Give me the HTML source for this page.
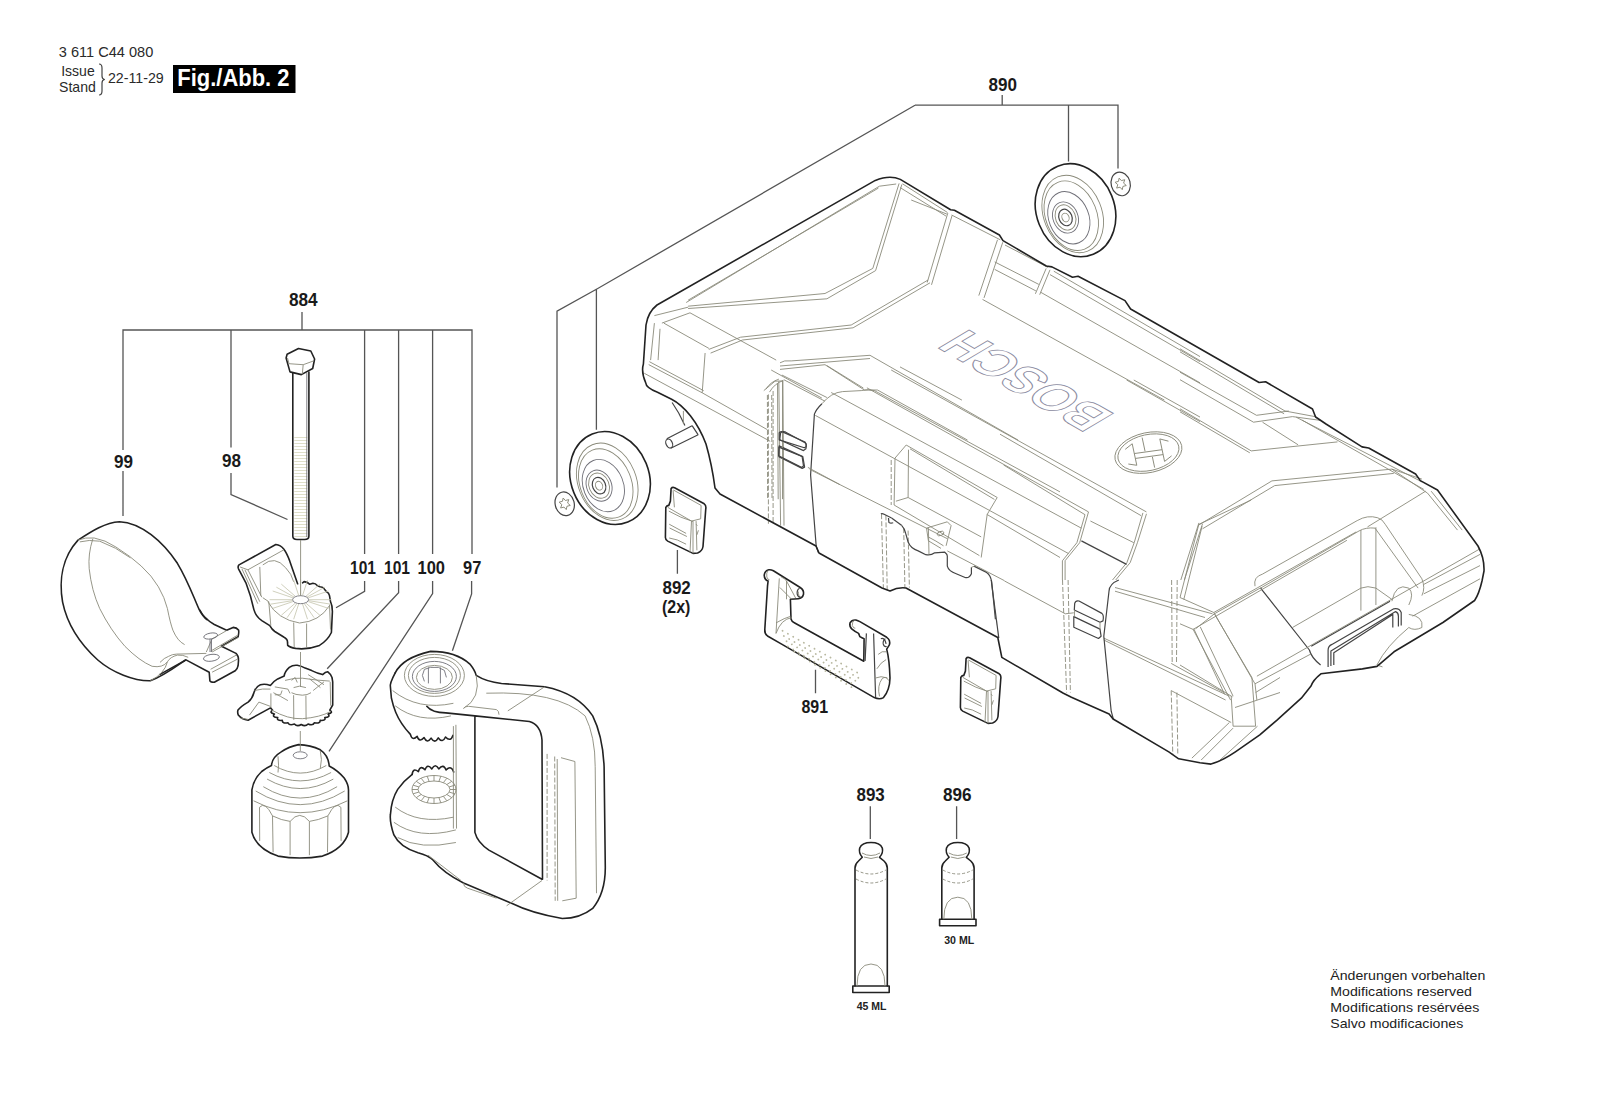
<!DOCTYPE html>
<html><head><meta charset="utf-8">
<style>
html,body{margin:0;padding:0;background:#fff;}
body{width:1600px;height:1106px;overflow:hidden;position:relative;font-family:"Liberation Sans",sans-serif;}
svg{position:absolute;left:0;top:0;}
.lbl{font-family:"Liberation Sans",sans-serif;font-weight:bold;font-size:18px;fill:#1a1a1a;}
.ld{stroke:#555;stroke-width:1.3;fill:none;}
.o{stroke:#222;stroke-width:1.6;fill:none;stroke-linejoin:round;stroke-linecap:round;}
.m{stroke:#444;stroke-width:1.2;fill:none;stroke-linejoin:round;}
.t{stroke:#8a8a7a;stroke-width:0.9;fill:none;}
.d{stroke:#8a8a7a;stroke-width:0.9;fill:none;stroke-dasharray:5 2;}
.w{fill:#fff !important;}
.g{stroke:#707078;stroke-width:0.9;fill:none;}
</style></head>
<body>
<svg width="1600" height="1106" viewBox="0 0 1600 1106">
<!-- header -->
<g font-family="Liberation Sans, sans-serif" fill="#2a2a2a">
<text x="58.8" y="56.8" font-size="15.2" textLength="94.5" lengthAdjust="spacingAndGlyphs">3 611 C44 080</text>
<text x="61.2" y="76" font-size="14.6" textLength="33.5" lengthAdjust="spacingAndGlyphs">Issue</text>
<text x="59" y="92" font-size="14.6" textLength="36.8" lengthAdjust="spacingAndGlyphs">Stand</text>
<text x="107.9" y="83.4" font-size="15.2" textLength="55.8" lengthAdjust="spacingAndGlyphs">22-11-29</text>
</g>
<path d="M99,64 q3,0 3,4 v8 q0,3 2.5,3.5 q-2.5,0.5 -2.5,3.5 v8 q0,4 -3,4" class="m" stroke-width="1.3"/>
<rect x="173" y="65" width="122.5" height="28" fill="#000"/>
<text x="177.3" y="86.2" font-size="23.5" font-weight="bold" fill="#fff" font-family="Liberation Sans, sans-serif" textLength="112.2" lengthAdjust="spacingAndGlyphs">Fig./Abb. 2</text>

<!-- labels -->
<g class="lbl">
<text x="289" y="305.5" textLength="28.7" lengthAdjust="spacingAndGlyphs">884</text>
<text x="114" y="468" textLength="19" lengthAdjust="spacingAndGlyphs">99</text>
<text x="222" y="467" textLength="19" lengthAdjust="spacingAndGlyphs">98</text>
<text x="350" y="574" textLength="26" lengthAdjust="spacingAndGlyphs">101</text>
<text x="384" y="574" textLength="26" lengthAdjust="spacingAndGlyphs">101</text>
<text x="417.5" y="574" textLength="27.5" lengthAdjust="spacingAndGlyphs">100</text>
<text x="463" y="574" textLength="18.3" lengthAdjust="spacingAndGlyphs">97</text>
<text x="988.5" y="90.5" textLength="28.5" lengthAdjust="spacingAndGlyphs">890</text>
<text x="662.5" y="593.5" textLength="28.3" lengthAdjust="spacingAndGlyphs">892</text>
<text x="801.5" y="712.5" textLength="26.6" lengthAdjust="spacingAndGlyphs">891</text>
<text x="856.5" y="800.5" textLength="28.3" lengthAdjust="spacingAndGlyphs">893</text>
<text x="943" y="800.5" textLength="28.6" lengthAdjust="spacingAndGlyphs">896</text>
</g>
<text x="662" y="612.5" font-size="17.5" font-weight="bold" fill="#1a1a1a" font-family="Liberation Sans, sans-serif" textLength="28.4" lengthAdjust="spacingAndGlyphs">(2x)</text>

<!-- leader lines 884 -->
<g class="ld">
<path d="M302,312 V330 M123,516 V471 M123,450 V330 H472 V554 M231,330 V447.5 M231,473 V494.5 L287.5,519.5 M364.6,330 V554 M398.6,330 V554 M432.6,330 V554"/>
<path d="M364.6,581 V591.4 L336,607.7 M398.6,581 V592.8 L327.2,668.8 M432.6,581 V593.5 L329,751.4 M471.6,581 V594 L452.4,650.7"/>
<!-- 890 -->
<path d="M1002.2,95 V105.2 M915,105.2 H1118 V168.5 M1068.5,105.2 V161.5 M915,105.2 L596.4,289.3 V429.8 M596.4,289.3 L557,311.1 V487.4"/>
<path d="M677.4,550 V573.8 M815.5,669.7 V693.2 M870.3,806.2 V839 M956.6,806.2 V839"/>
</g>

<g font-family="Liberation Sans, sans-serif" fill="#222" font-size="13.6">
<text x="1330.3" y="980.2" textLength="155" lengthAdjust="spacingAndGlyphs">Änderungen vorbehalten</text>
<text x="1330.3" y="995.8" textLength="141.6" lengthAdjust="spacingAndGlyphs">Modifications reserved</text>
<text x="1330.3" y="1011.7" textLength="149" lengthAdjust="spacingAndGlyphs">Modifications resérvées</text>
<text x="1330.3" y="1027.5" textLength="133" lengthAdjust="spacingAndGlyphs">Salvo modificaciones</text>
</g>
<g font-family="Liberation Sans, sans-serif" font-weight="bold" fill="#222" font-size="11">
<text x="856.7" y="1009.7" textLength="29.8" lengthAdjust="spacingAndGlyphs">45 ML</text>
<text x="944.2" y="944.1" textLength="30" lengthAdjust="spacingAndGlyphs">30 ML</text>
</g>
<g id="parts">
<path class="t" d="M686.2 302.5L879.4 186.2L896.2 184"/>
<path class="t" d="M688.1 300.2L878.4 188.1"/>
<path class="t" d="M688.1 306.2L825 293.5L872.8 268.4L899.1 183.4"/>
<path class="t" d="M688.1 308.5L826.9 298.8L875.6 270.6L901.9 184.4"/>
<path class="t" d="M654.4 315.6L688.1 307.2M661.9 323.1L690 312.8L776.2 360.1M663.8 323.1L708.9 348.4"/>
<path class="t" d="M708.8 349.4L740.6 337.2L851.2 325L928.1 280M710.6 353.1L742.5 340L853.1 327.8L930 282.8"/>
<path class="t" d="M654.4 323.1L650.6 360.1M660 328.8L658.1 360.1"/>
<path class="t" d="M911.2 200L946.9 214.1M947.8 213.1L927.2 282.5M952.1 215.4L931.5 284.8"/>
<path class="t" d="M951.6 215L1000.3 239.8M997.5 239.8L978.8 295.6M1002.8 242.2L984 297.9"/>
<path class="t" d="M994.7 269.4L1035.9 290.9M994.7 261.9L1038.8 284.4M1046.2 268.4L1035.4 293.8M1050 269.8L1039.7 294.7"/>
<path class="t" d="M1050 274.6L1200 361.6M1040.6 292.2L1200 382.8M982.5 299.4L1164.4 400.1M900 366.9L961.9 400.1M1005 245L1048.1 267.5M1053.8 271.2L1200 356.6"/>
<path class="t" d="M1180 348.8L1285 411L1315 416.6M1180 351.8L1284.1 413.8"/>
<path class="t" d="M1180 372.2L1256.5 415.3L1288.8 411M1180 379.7L1253.5 422.2L1292.5 416.6L1320.6 420.4"/>
<path class="t" d="M1262.5 422.2L1298.1 444.8M1180 408.8L1251.2 450.9L1337.5 441.9M1180 411.8L1249.8 452.8"/>
<path class="t" d="M1296.2 417.2L1421.9 481.9M1301.9 420L1423.8 489.4"/>
<path class="t" d="M1271.9 480.9L1391.9 469.1L1421.9 479.1M1274.7 485.6L1393.8 473.4M1271.9 480.9L1198.8 525M1274.7 485.6L1202.5 528.8"/>
<path class="t" d="M1425.6 491.2L1367.5 526.9M1427.5 493.1L1457.5 530.1M1431.2 491.2L1462.2 530.1M1391.9 469.1L1427.5 493.1"/>
<path class="t" d="M1198.8 524.4L1251.2 500M1198.8 524.4L1180 597.5M1202.1 526.2L1183.8 599.4"/>
<path class="t" d="M1255 586.2Q1253.1 576.9 1262.5 574.1L1357.2 520.6Q1367.5 514.6 1377.8 517.8Q1382.5 519.1 1385.3 524.4L1421.9 578.8Q1425.6 588.1 1421.9 595.6"/>
<path class="t" d="M1260.6 588.1L1359.1 530.9Q1365.6 527.2 1375 528.1L1418.1 588.1M1360.9 530V610.6M1375.9 527.2V605"/>
<path class="t" d="M1292.5 627.5L1360.9 588.1Q1367.5 585.3 1375.9 588.1L1391.9 599.4"/>
<path class="m" d="M1260.6 588.1L1309.4 650Q1311.2 657.5 1320.6 665M1311.2 646.2L1390 601.2"/>
<path class="m" d="M1328.1 666.9V650Q1328.1 646.2 1331.9 644.4L1393.8 608.8Q1399.4 607.8 1401.2 612.5V625.6M1330.9 665.9V650.9L1395.6 611.6Q1398.4 612.5 1398.4 616.2V626.6M1333.8 665V652.8L1392.8 614.4V627.5"/>
<path class="t" d="M1423.8 584.4L1480 554.4M1423.8 593.8L1480 565.6M1412.5 616.2L1480 578.8M1391.9 601.2Q1395.6 582.5 1408.8 588.1Q1414.4 593.8 1408.8 605M1408.8 614.4Q1423.8 616.2 1421.9 627.5Q1414.4 631.2 1408.8 627.5"/>
<path class="t" d="M1180 597.5L1213.8 612.5L1255 683.8L1256.9 700.1M1180 623.8L1193.1 629.4L1230.6 700.1M1180 665L1232.5 696.9M1213.8 612.5L1356.2 531.9M1193.1 629.4L1346.9 540.3M1255 683.8L1311.2 653.8M1256.9 676.2L1480 548.8"/>
<path class="t" d="M1376.9 665Q1386.2 646.2 1408.8 627.5M1376.9 665L1382.5 666.9"/>
<path class="m" d="M991.2 580L998.8 638.1"/>
<path class="t" d="M1004.4 580.9L1065.3 613.8L1073.8 612.8M1103.8 638.1L1229.4 696.2M1103.8 640L1225.6 700"/>
<path class="d" d="M1062.5 580L1066.6 692.5M1068.1 580L1070.4 692.5M1171.6 580L1172.2 662.5M1177.2 580L1176.5 662.5M1171.2 690.6L1172.8 754.4M1176.9 692.5L1177.8 754.4"/>
<path class="m" d="M1074.7 603.4Q1075.6 600.2 1079 601L1101.9 613.4Q1104.1 615.2 1103 620.9L1100 622.2L1074.3 610ZM1073.8 616.6L1100 629.1L1101.1 636.2L1098.5 638.5L1073.8 627.2Z"/>
<path class="t" d="M1074.7 610L1074.3 616.6M1100 622.2L1100 629.1"/>
<path class="m" d="M1118.8 580Q1109.4 583.8 1109 591.2L1103.8 636.2L1111.2 711.2L1113.5 719.7"/>
<path class="t" d="M1171.2 663.4L1223.8 692.5M1171.2 690.6L1231.2 722.5M1193.8 628.8L1224.7 694.4M1200.3 626.9L1233.1 696.2M1214.4 613.8L1261.2 587.5M1195.6 628.8L1214.4 613.8M1214.4 613.8L1251.9 677.5L1255.6 726.2M1231.2 696.2L1233.1 726.2L1255.6 726.2"/>
<path class="t" d="M1191.9 758.1L1229.4 722.5M1201.2 760L1233.1 728.1M1220 760L1257.5 726.2M1235 707.5L1280 692.5M1255.6 692.5L1280 677.5"/>
<path class="t" d="M1115 587.5L1212.5 613.8M1115 591.2L1205 617.5"/>
<path class="d" d="M768.4 394.4L768.4 523.8M773.1 391L773.1 523.8M891.2 460L891.2 505"/>
<path class="t" d="M778.8 381.2L780.6 525.6M782.9 381.2L784 525.6M763.8 390.6L775 381.2L783.4 380.9"/>
<path class="m" d="M780.6 432.8Q782.1 430.9 785.3 431.9L805 442.8Q806.9 444.1 805.9 448.8L803.5 450.6L779.7 439.8ZM779.1 445.9L802.8 456.6L804.6 467.1L802.2 468.4L778.8 456.6Z"/>
<path class="m" d="M821.9 403.8Q816.2 409.4 814.4 414.1L810.6 475L816.2 546.2L818.5 552.8"/>
<path class="t" d="M821.9 403.8Q831.2 392.5 842.5 391.6L861.2 390.6Q868.8 388.8 874.4 390.6L1060 491.9M815.3 415.4L1068.6 553.6M809.7 469.4L947.5 538.8M986.9 514.4L1060 557.5"/>
<path class="t" d="M895 458.1L906.2 445L997.2 497.5L987.2 514.4L981.2 557.5M895 458.1L894.1 505L979.4 555.6M908.5 449.7L908.1 497.5L981.2 536.9M895.9 501.2L908.1 497.5M910 448.8L994.4 499.4"/>
<path class="t" d="M866.9 387.8L1088.5 511.9L1079.7 542.7L1065.1 560.7L1065.1 580M891.2 370L1146.4 511.9M831.2 392.5L1081.4 528.2M771.2 370L821.9 398.1"/>
<path class="m" d="M666.8 438.7L692.1 425.7M670.7 448.2L698.2 434.8M692.1 425.7L698.2 434.8"/>
<ellipse class="m" cx="669.2" cy="443.5" rx="3.2" ry="4.6" transform="rotate(-25 669.2 443.5)"/>
<path class="m" d="M672.1 402.5Q679.1 412.4 684.9 425.4"/>
<path class="t" d="M648.7 364.6L702.2 392.8M705.1 353L702.2 392.8M649.4 361.7L703.7 390.7"/>
<path class="t" d="M683.4 410.9L683.4 423.9M644.3 373.3L770.2 441.3M807.9 467.4L840 484.7M765.9 389.2Q770.2 382 778.9 379.1M769.5 392.1Q774.6 383.4 783.3 380.5"/>
<path class="d" d="M767.4 395L767.6 499.2M771.7 395L772 499.2"/>
<path class="t" d="M777.5 383.4L778.2 499.2M782.5 380.5L782.5 499.2M702.2 392.8L767.4 429.7"/>
<path class="m" d="M779.2 432.9Q780.1 431.2 782.5 431.9L805 442Q806.7 443.5 806.1 446.8L804.3 447.8L779.2 439.9ZM778.9 447.1L802.1 456.5L803.5 465.9L801.4 467.4L778.6 455.8Z"/>
<path class="t" d="M780 362.8Q783.8 360 791.2 360.9L870 355.3L1018.1 440.1M780 366L870 358.5"/>
<path class="t" d="M780 369.4L825 364.7L864.4 390L877.5 390L967.5 440.1M781.9 375L826.9 397.5M783.8 379.7L825 401.2M826.9 365.6L863.4 388.1"/>
<text transform="matrix(-0.866,-0.5,0.926,-0.551,1116,415)" font-family="Liberation Sans, sans-serif" font-weight="bold" font-size="48" fill="none" stroke="#8a8aa0" stroke-width="0.9" textLength="173" lengthAdjust="spacingAndGlyphs">BOSCH</text>
<g transform="translate(1148.4,452.6) rotate(-12)"><ellipse class="t" rx="34" ry="20"/><ellipse class="t" rx="31" ry="18"/><path class="t" d="M-22,-8 L-14,-12 L-14,10 L-22,7 M22,-7 L14,-11 L14,12 L22,8 M-14,-2 L14,0 M-14,3 L14,5 M-3,-16 L-3,-2 M3,5 L3,16"/></g>
<g>
<path class="w o" d="M671.1 488.4Q672.3 486.9 674.6 487.7L704.2 503.8Q706.5 505.4 705.7 509.6L703 546.5Q702.3 551.1 697.6 553L693 553.4L667.7 541.1Q665.4 539.9 665.4 537.6L665.8 507.3Q666.9 505.4 668.8 505.4L670.4 501.1Z"/>
<path class="t" d="M673.1 490.4L674.4 507.3M673.4 490L701.1 505.4L700.7 518.8M667.7 507.3L691.5 521.1L700.7 518.8M668.8 511.1Q680.7 518 693 521.5M691.5 521.1L690 552.6M693 521.1L693 553.4M696.1 521.1L696.9 550.3"/>
<path class="t" d="M669.2 524.2L686.1 533.4M669.6 528L686.9 536.5M669.2 538Q676.9 538.8 686.1 544.2M696.1 524.2L697.3 525.7M696.9 534.9L698.4 530.3"/>
</g><g transform="translate(295,170)">
<path class="w o" d="M671.1 488.4Q672.3 486.9 674.6 487.7L704.2 503.8Q706.5 505.4 705.7 509.6L703 546.5Q702.3 551.1 697.6 553L693 553.4L667.7 541.1Q665.4 539.9 665.4 537.6L665.8 507.3Q666.9 505.4 668.8 505.4L670.4 501.1Z"/>
<path class="t" d="M673.1 490.4L674.4 507.3M673.4 490L701.1 505.4L700.7 518.8M667.7 507.3L691.5 521.1L700.7 518.8M668.8 511.1Q680.7 518 693 521.5M691.5 521.1L690 552.6M693 521.1L693 553.4M696.1 521.1L696.9 550.3"/>
<path class="t" d="M669.2 524.2L686.1 533.4M669.6 528L686.9 536.5M669.2 538Q676.9 538.8 686.1 544.2M696.1 524.2L697.3 525.7M696.9 534.9L698.4 530.3"/>
</g>
<path class="o" d="M768.1 581Q764.4 579.7 764.2 575.1Q764.8 570.7 768.8 569.8Q770.7 569.4 773.4 570.7L800.2 587.5Q804.2 590.1 803.5 594.3Q802.5 598.3 798.3 598.7L790.4 599.3L791 619Q791.7 621.6 794.3 622.7L863.8 661.2L864.1 638.7Q861.8 638 859.9 636.7L858.6 633.4Q854.6 631.4 852 629.2Q849.1 626.2 850 622.9Q851.7 619.6 855.9 620Q857.9 620.6 859.9 621.6L886.7 637.3Q890.7 640 889.4 644.9L886.7 649.1Q889.4 659.6 890 678Q889.8 689.8 883.5 697.6Q879.5 700 874.3 697.6L781.2 643.9L767.5 636Q764.4 633.4 764.8 629.5L767.5 586.2Z"/>
<path class="t" d="M779.3 578.4L776 633.4M781.2 577Q785.1 578.4 786.5 581L795.6 598M779.9 587.5L791.7 599.3M786.5 581L786.5 599.3"/>
<path class="t" d="M776 633.4Q781.2 619 791.7 617.7M776 622.9Q785.1 617.7 790.4 616.4"/>
<path class="m" d="M866.4 633.4L865.1 660.9M880.8 638.7Q884.8 637.3 886.1 643.9M873.6 633.4L875.6 697"/>
<path class="t" d="M878.2 654.4Q882.2 650.4 886.1 651.8M876.9 668.8Q880.8 662.2 886.1 659.6M875.6 678Q880.8 675.4 887.4 678M879.5 696.3Q876.9 685.8 882.2 678.6Q886.1 675.4 888.7 680.6M798.3 591.5Q798.3 596.7 800.9 597.4"/>
<g stroke="#b8b8a0" stroke-width="1.8" stroke-linecap="round" stroke-dasharray="0.1 6" fill="none">
<path class="" d="M782.5 630.8L859.9 674M783.8 636L858.6 678M786.5 641.3L857.2 681.9M787.8 646.5L855.9 685.8M794.3 651.8L854.6 689.1"/>
</g>
<path class="m" d="M799.6 588.2Q796.7 589.5 797.2 594.1Q798.3 598 801.1 597.4M885.4 638.7Q882.8 640 883.2 643.9Q884.1 647.2 886.7 646.5"/>
<path class="t" d="M768.1 570.5Q766.1 572.5 766.8 577Q768.1 580.3 769.4 579.7M854.6 620Q852 621.6 852.3 625.5Q853.6 628.8 855.3 628.2"/>
<g transform="translate(0,0)">
<path class="o" stroke-width="1.5" d="M855,986 L855,868 Q855,864 858.5,861 L862.3,857.3 Q858.5,853 859.7,848 Q862,842.5 871,842.5 Q880,842.5 882.3,848 Q883.5,853 879.5,857.3 L884,861 Q887.3,864 887.3,868 L887.3,986"/>
<rect class="o" stroke-width="1.5" x="852.8" y="986" width="36.4" height="6.5"/>
<path class="t" stroke-dasharray="3 2" d="M856,870 Q871,878 886,870 M856,879 Q871,887 886,879"/>
<path class="t" d="M862,853 Q871,858 880,853 M864,857 Q871,860 878,857"/>
<path class="t" d="M857,986 Q857,964 871,964 Q885,964 885,986"/>
</g>
<g transform="translate(86.8,0)">
<path class="o" stroke-width="1.5" d="M855,919.2 L855,868 Q855,864 858.5,861 L862.3,857.3 Q858.5,853 859.7,848 Q862,842.5 871,842.5 Q880,842.5 882.3,848 Q883.5,853 879.5,857.3 L884,861 Q887.3,864 887.3,868 L887.3,919.2"/>
<rect class="o" stroke-width="1.5" x="852.8" y="919.2" width="36.4" height="6.5"/>
<path class="t" stroke-dasharray="3 2" d="M856,870 Q871,878 886,870 M856,879 Q871,887 886,879"/>
<path class="t" d="M862,853 Q871,858 880,853 M864,857 Q871,860 878,857"/>
<path class="t" d="M857,919.2 Q857,897.2 871,897.2 Q885,897.2 885,919.2"/>
</g>
<path class="o" d="M185.5 660C173.8 668.1 162.9 676.3 150.3 680.8C134 681.1 112.3 672.6 97.8 660C79.8 643.7 67.1 623.8 62.6 602.1C59 581.3 61.7 557.8 78 540.1C92.4 530.7 105.1 522.6 119.5 521.7C141.2 522.6 162.9 541.6 177.4 563.3C188.2 581.3 193.7 597.6 199.1 609.4C201.8 614.8 203.6 617.5 207.2 619.7"/>
<path class="o" d="M199.8 610Q202 614.3 204.9 617.2Q209.2 621.6 214.3 624.5L226.6 630.3L233.1 627.4Q236.7 627.7 238.5 629.9Q239.2 631.7 238.1 636.8L221.5 646.2M221.5 646.2L236 653.4Q238.9 656.3 238.5 660.6L238.1 665.7Q237.4 669.3 235.2 670.8L214.3 682.3Q210.6 682.3 209.9 680.9L209.2 672.2L186 659.9L160 674.4"/>
<path class="t" d="M226.6 630.6L212.1 638.9L206.3 652M210.6 651.2L237.4 635.3M212.1 652L238.1 637.5M210.6 669.3L236.7 654.9M212.1 672.2L237.4 659.2M160 662.4Q164.3 657.7 168.7 656.3Q172.3 654.1 176.6 654.1L206.3 653.4"/>
<path class="t" d="M78 540.1Q85.2 537.1 94.2 538Q105.1 539.8 115.9 547Q130.4 556 141.2 566Q152.1 575.9 158.4 586.8Q164.7 597.6 167.4 608.5Q170.2 622.9 172.9 630.2Q177.4 641 184.6 644.6M79.8 541.9Q88.8 539.4 99.7 541.2Q115.9 547 130.4 557.8"/>
<path class="t" d="M92.8 538.9Q87.9 554.2 89.2 568.7Q91.5 590.4 99.7 608.5Q110.5 630.2 125 646.4Q139.4 660.9 152.1 666.3Q162.9 668.1 167.4 661.8Q170.2 656.9 177.4 655.1Q182.8 654.6 188.2 657.3M167.4 661.8Q164.7 673.5 150.3 680.8"/>
<ellipse class="g" cx="210.7" cy="636" rx="7" ry="2.9" transform="rotate(-10 210.7 636)"/>
<ellipse class="g" cx="211.4" cy="657.8" rx="8" ry="3.4" transform="rotate(-8 211.4 657.8)"/>
<path class="g" d="M210,639V652 M211.5,639V652"/>
<path stroke="#d4d4b8" stroke-width="13" stroke-dasharray="0.8 2.2" fill="none" d="M300.8,437V537"/>
<path class="o" stroke-width="1.4" d="M292.8,372 V536 Q292.8,539.5 297,539.5 H304.7 Q308.9,539.5 308.9,536 V372"/>
<path class="g" d="M306.8,373V537"/>
<path class="w o" stroke-width="1.4" d="M287.1,354.2 L298.5,348.5 L310.8,351 L314.6,359 L312.7,368.5 L301.3,374.6 L290,371.9 L286.1,358Z"/>
<path class="t" d="M289,363.7 L303.2,364.7 L313.7,360.9 M303.2,364.7 L302.3,374.2 M287.5,358 L289,363.7"/>
<path class="o" d="M297.6 583.8L289.7 560.9Q286.7 552.9 283.7 549Q280.7 545 275.8 544.5L239 564.9Q237.5 566.4 238.5 568.8L245.9 582.8Q250.9 595.7 253.9 609.6Q255.9 616.6 261.8 620.6L269.8 625.7Q271.8 629.5 274.8 631.5L283.7 637Q287.7 639 287.5 642.4L287.7 645.4Q289.7 647.4 295.6 648.4L301.6 648.9Q311.6 648.4 319.5 645.4Q327.5 640.5 331.4 632.5L332.4 611.6Q332.4 605.6 330.5 601.7L329.5 595.7Q329 592.7 326.5 591.7L324.5 589.2Q323 586.7 320 586.7L317.5 585.8Q315.5 583.3 313 583.3L309.6 584.3Q307.6 581.8 304.1 581.6L302.6 582.8"/>
<path class="t" d="M239.9 566.9L247.9 569.8L283.7 549.9M247.9 569.8L261.8 597.2M244.9 569.8L259.8 601.7M241.9 568.8L257.8 603.7M259.8 566.9L260.8 595.7M262.8 597.7L268.8 601.7L270.8 625.5M293.7 622.5L294.2 647.4M306.6 623.5L306.6 647.4M329.5 604.6L330.5 629.5"/>
<path class="t" d="M267.8 601.7Q277.7 619.6 299.6 623Q319.5 621.6 329.5 605.6"/>
<path class="t" d="M262.8 564.9Q274.8 554.9 285.7 567.8Q291.7 573.8 293.7 581.8"/>
<ellipse class="g" cx="300.6" cy="599.7" rx="8" ry="4"/>
<g stroke="#c4c4ac" stroke-width="0.8" fill="none"><line x1="309.1" y1="599.7" x2="331.6" y2="599.7"/><line x1="308.9" y1="600.7" x2="330.8" y2="604.2"/><line x1="308.3" y1="601.6" x2="328.5" y2="608.4"/><line x1="305.9" y1="603.1" x2="319.9" y2="615.3"/><line x1="304.3" y1="603.6" x2="314.1" y2="617.7"/><line x1="302.5" y1="603.9" x2="307.5" y2="619.2"/><line x1="298.7" y1="603.9" x2="293.7" y2="619.2"/><line x1="296.9" y1="603.6" x2="287.1" y2="617.7"/><line x1="295.3" y1="603.1" x2="281.3" y2="615.3"/><line x1="292.9" y1="601.6" x2="272.7" y2="608.4"/><line x1="292.3" y1="600.7" x2="270.4" y2="604.2"/><line x1="292.1" y1="599.7" x2="269.6" y2="599.7"/><line x1="292.9" y1="597.8" x2="272.7" y2="591.0"/><line x1="294.0" y1="597.0" x2="276.4" y2="587.2"/><line x1="295.3" y1="596.3" x2="281.3" y2="584.1"/><line x1="298.7" y1="595.5" x2="293.7" y2="580.2"/><line x1="300.6" y1="595.4" x2="300.6" y2="579.7"/><line x1="302.5" y1="595.5" x2="307.5" y2="580.2"/><line x1="305.9" y1="596.3" x2="319.9" y2="584.1"/><line x1="307.2" y1="597.0" x2="324.8" y2="587.2"/><line x1="308.3" y1="597.8" x2="328.5" y2="591.0"/></g>
<path class="w o" d="M238 710Q240.8 706.4 248.1 702.1Q252.4 698.5 253.9 692.7Q255.3 686.9 260.4 684.7Q264.7 683.4 270.5 685.4Q272.7 681.8 277.7 678.9L284.2 676Q284.6 671.7 289.3 667.4Q292.9 664.8 297.3 665.3Q301.6 666.1 305.2 668.1L311.7 670.6Q316.8 673.1 322.6 674.6Q325.5 671.7 327.6 671.7Q330.5 673.9 332 677.5L332.7 681.8L332.7 705L329.8 710.2Q333.8 712.8 328.1 714Q330.8 717.1 324.8 717.5Q326.2 720.9 320.2 720.4Q320.2 723.9 314.5 722.7Q313 726 308.1 724Q305.2 727.1 301.2 724.5Q297.2 727.1 294.4 724Q289.4 726 288 722.7Q282.3 723.9 282.3 720.4Q276.3 720.9 277.7 717.5Q271.6 717.1 274.4 714Q268.7 712.8 272.6 710.2L270.5 707.9L248.1 720.2Q241.6 719.4 238.3 715.1Q237.2 712.2 238 710Z"/>
<path class="t" d="M270.9 693.4L270.9 707.9M293.6 695.2L293.8 719.8M305.9 695.6L306.1 719.8M330.2 681.8L330.7 705.7M254.6 690.5Q262.5 688.3 270.5 689.1"/>
<path class="t" d="M271.6 710Q287.9 719.4 302.3 718.7Q320.4 717.3 330.5 711.5"/>
<path class="t" d="M273.4 692.7Q280.6 696.3 287.9 700.6M274.8 686.9L287.9 689.1L290 693.4M285 680.4Q295.1 677.5 302.3 678.2Q316.8 680.4 329.8 681.1M291.5 692.7Q295.1 694.8 302.3 695.2Q307.4 695.2 311 692.7M293.6 687.6Q299.4 684.7 305.9 687.6"/>
<path class="t" d="M274.8 694.8L280.6 694.8L282.1 690.5M308.1 674.6L324 684.7M309.6 678.9L320.4 687.6M313.2 690.5L324 681.8M291.5 680.4L295.1 677.5L297.3 682.5"/>
<path class="t" d="M240.8 718L248.1 719.4M258.9 702.1L270.5 706.4M258.9 702.1L249.5 715.1"/>
<path class="w o" d="M271.5 765.5Q272 757.4 281.2 751.9Q288.8 746.5 298.6 744.6Q310.5 744.9 320.3 749.8Q328.4 755.2 329.2 766Q337.6 770.4 344.2 778Q348.5 784.5 348.5 789.9L348.5 832.2Q344.2 848.5 322.5 856.1Q299.7 859.9 278 856.1Q256.3 848.5 251.9 832.2L251.9 789.9Q253.6 779.1 261.7 771.5Q266.6 767.7 271.5 765.5Z"/>
<path class="t" d="M259.5 807.3L259.7 840.9M272.5 815.9L273.1 852.3M290.1 821.4L290.1 855.2M309.4 821.4L309.4 855.2M327.9 815.9L327.5 852.3M340.9 807.3L341.1 840.9"/>
<path class="t" d="M259.5 807.3Q265 800.8 272.5 815.9M290.1 821.4Q299.7 809.4 309.4 821.4M327.9 815.9Q335.5 800.8 340.9 807.3M253.6 800.8Q299.7 824.6 347.4 800.8"/>
<path class="t" d="M272.5 815.9Q281.2 820.3 290.1 821.4M309.4 821.4Q318.1 820.3 327.9 815.9"/>
<path class="t" d="M274.2 765.5Q300.2 780.7 326.3 765.5"/>
<path class="t" d="M269.3 772.5Q300.2 789.3 331.1 772.5"/>
<path class="t" d="M267.1 779.1Q300.2 798 333.3 779.1"/>
<path class="t" d="M263.3 786.7Q300.2 809.4 337.1 786.7"/>
<path class="t" d="M255.7 791Q300.2 818.3 344.7 791"/>
<ellipse class="g" cx="300.2" cy="755.3" rx="7" ry="3.5"/>
<path class="t" d="M278 756.3Q279.1 766 278 772.5M320.3 750.8Q322.5 759.5 320.3 768.2"/>
<path class="o" d="M395.2 672.9Q402.8 657.7 430.6 651.4Q455.9 651.4 469.9 664.1Q474.9 670.4 476.2 675.4Q486.3 681.8 501.5 683.5L544.6 686.8Q577.5 693.2 592.7 715.9Q602.8 736.2 604.1 766.6L605.3 867.8Q605.3 893.2 592.7 908.4Q580 918.5 562.3 918.5Q531.9 913.4 511.6 903.3L463.5 883Q443.3 872.9 433.2 860.3Q428.1 855.2 418 852.7Q400.3 847.6 393.9 834.9Q389.6 822.3 390.4 814.7Q391.4 799.5 397.7 789.4Q404.1 780.5 412.2 774.4"/>
<path class="o" d="M395.2 672.9Q389.6 683.5 390.4 686.8L391.4 698.2Q393.2 706.3 395.7 712.2Q400.3 723.5 410.4 734.4L410.4 734.4Q412.1 741.3 417.2 736.4Q419.6 743 424.1 737.6Q427.2 744 431.1 738.1Q434.9 744.2 438.3 737.9Q442.6 743.6 445.5 737Q450.5 742.3 452.9 735.4"/>
<path class="o" d="M412.2 774.4L412.2 774.4Q412.8 767.4 418.4 771.6Q420 764.7 425 769.8Q427.5 763.2 431.8 768.9Q435.3 762.7 438.8 768.9Q443.3 763.3 446.1 769.9Q451.4 764.9 453.7 771.9"/>
<path class="o" d="M474.9 715.9L474.9 832.4Q477.5 842.5 488.9 850.1L542 879.2M426.8 706.3Q431.9 712.7 445.8 712.9L474.9 715.9L529.4 721.5Q540.8 724.8 542 740L542.5 879.2"/>
<path class="t" d="M453.4 726.1L453.4 828.6M455.9 724.8L456.5 828.6M561 757.7L574.9 761.5L576.2 898.2L562.3 900.8M557.2 759L557.7 900.8"/>
<path class="d" d="M554.7 756.5L555.2 900.8M547.1 753.9L547.1 880.5"/>
<path class="t" d="M507.8 710.9L544.6 686.8M506.6 905.8L542 880.5M463.5 708.4Q464.8 706.3 468.6 706.3L496.5 709.6Q499 710.9 499 714.7M463.5 883Q463.5 886.8 467.3 888.1L496.5 898.2M428.1 855.2L461 880.5"/>
<path class="t" d="M476.2 675.4Q481.3 698.2 463.5 708.4M486.3 693.2Q557.2 690.6 585.1 715.9Q595.2 736.2 595.2 766.6L596.5 893.2"/>
<g transform="translate(434.4,675.4)">
<ellipse class="t" rx="30" ry="21"/><ellipse class="t" rx="26" ry="18"/><ellipse class="g" rx="22" ry="15" cy="1"/><ellipse class="t" rx="18" ry="12" cy="2"/>
<path class="g" d="M-12,0 L-10,-6 L-4,-8 L4,-8 L10,-5 L12,2 M-6,-8 L-6,8 M6,-8 L6,8 M-12,0 L-10,6"/>
</g>
<g transform="translate(434,793.5)">
<ellipse class="t" rx="22" ry="14" cy="-4"/><ellipse class="t" rx="16" ry="8.5" cy="-4"/>
</g>
<path class="t" d="M395.2 807.1Q418 824.8 453.4 817.2M393.9 822.3Q418 840 455.9 829.9M397.7 837.5Q420.5 850.1 455.9 842.5M392.7 690.6Q418 710.9 453.4 703.3M395.2 705.8Q418 723.5 450.9 715.9"/>
<path class="t" d="M300.6,540V596 M300.5,652V687 M300.3,731V751"/>
<path class="t" d="M1146.5 513.8L1137.4 542.7L1130.2 562.6L1115.7 580M1142.9 512.9L1134.2 542.7L1126.9 562.6L1112.5 580M1000 434.2L1141 515.6"/>
<path class="t" d="M1198.9 522.9L1180.8 580M1202.5 523.8L1184.4 580M1126.6 380L1200 421.6M1133.8 380L1200 417.1M1090.4 521L1133.8 542.7M1003.6 465L1085 514.7L1076.9 542.7L1062.4 560.8L1062.4 580"/>
<path class="m" d="M1081.4 540.9L1126.6 564.4"/>
<path class="t" d="M450.0,789.5L456.0,789.5 M449.2,792.1L454.9,793.8 M446.9,794.5L451.8,797.7 M443.4,796.4L446.9,800.8 M438.9,797.6L440.8,802.8 M434.0,798.0L434.0,803.5 M429.1,797.6L427.2,802.8 M424.6,796.4L421.1,800.8 M421.1,794.5L416.2,797.7 M418.8,792.1L413.1,793.8 M418.0,789.5L412.0,789.5 M418.8,786.9L413.1,785.2 M421.1,784.5L416.2,781.3 M424.6,782.6L421.1,778.2 M429.1,781.4L427.2,776.2 M434.0,781.0L434.0,775.5 M438.9,781.4L440.8,776.2 M443.4,782.6L446.9,778.2 M446.9,784.5L451.8,781.3 M449.2,786.9L454.9,785.2"/>
<path class="d" d="M881.5 514.2L883.4 588.9M885.9 515.4L887.2 590.1M903.7 528.1L904.9 587.6M908.1 530.6L909.4 587.6"/>
<path class="m" d="M880.9 513.9Q882.2 513.2 884.1 514.2L891.6 518M888.5 518L888.9 522.4Q890.4 523.7 893.2 522.8M901.8 525.6Q904.3 528.1 905.6 533.2L908.1 542Q910.6 548.4 918.2 550.9L925.8 554.7Q930.9 555.7 934.7 552.8L944.8 552.2Q947.3 554.1 947.3 555.9L947.3 566.1Q948.6 571.1 956.2 573.7L965.1 577.5Q969.1 578.5 971.4 573.7L971.4 567.3M973.9 566.1L986.6 572.4Q990.4 574.9 991.6 581.3L995.4 619.2"/>
<path class="t" d="M926.5 528.1L947.3 521.8L951.1 525.6L948.6 535.7L946.1 545.8M928.4 540.8L941 548.4M926.5 528.1L928.4 540.8M928.4 528.1L929 554.7M971.4 567.3L974.6 566.1"/>
<ellipse class="t" cx="940.5" cy="533.5" rx="3.5" ry="2" transform="rotate(-20 940.5 533.5)"/>
<path class="t" d="M928.4 537Q935.9 540.8 943.5 545.8"/>
<path class="m" d="M891.6 518L901.8 525.6"/>
<path class="t" d="M947.3 550.9L1004.3 580.6"/>
<path class="t" d="M902.5 183.8L947.5 212.5M900 187.5L946.2 216.2"/>
<g id="case">
<path class="o" d="M657,305 L875.3,180.4 Q889.9,174.5 900.3,179.4 L950.6,209.7 L954.4,210.3 L999.4,235 L1003,240.6 L1046.3,266 L1051.9,266.9 L1072.5,277.2 L1078.1,276.3 L1125,300.6 L1130.6,309 L1259.1,382.5 L1265.6,381.8 L1312.5,409 L1315.6,417 L1326,424 L1362,446.9 L1368.7,448 L1415.6,474 L1420.3,480.6 L1437.5,490 L1478,546 Q1484.5,558 1484,571 L1482,581 Q1479,594 1474.6,600.5 L1442.9,622.5 L1394,651.8 L1377,666.4 L1362.4,668.9 L1320.9,673.8 Q1313,680 1311,686 L1301.3,698.2 L1277,720.1 L1259.8,734.8 L1235.4,751.9 Q1222,761 1211,764.1 L1200,762.8 L1178.7,758.8 L1168.8,751.9 L1113.1,719 L1109.1,714.1 L1071.4,697.2 L1063.4,693.2 L1001.8,657.4 L997.8,637.5 L906,588 Q898,587 890,591 L882,588 L819,553 L816,546 L720,494 L715,488 Q712,465 706,444 Q700,428 690.4,415.7 Q681,404 671.6,399.2 L657.5,392.2 Q646,388 645.7,382.8 Q641,372 643.4,364 L646,325 Q648,312 657,305 Z"/>
</g>
<g id="wheels">
<g transform="translate(1075.5,210.2) rotate(-22)">
<ellipse class="o" rx="39" ry="47.5"/>
<ellipse class="t" cx="-4" cy="2.5" rx="29" ry="40"/>
<ellipse class="t" cx="-6" cy="3.5" rx="25.5" ry="36"/>
<ellipse class="g" cx="-9" cy="4.5" rx="20" ry="27"/>
<ellipse class="g" cx="-12" cy="3" rx="12.5" ry="16"/>
<ellipse class="t" cx="-12" cy="3" rx="10" ry="13" stroke-width="1.4" stroke="#b8b8a0"/>
<ellipse class="m" cx="-12" cy="3" rx="6.5" ry="8.5" stroke-width="0.8" stroke="#888" />
<ellipse class="t" cx="-12" cy="3" rx="3.5" ry="4.5"/>
</g><g transform="translate(610,478) rotate(-22)">
<ellipse class="o" rx="39" ry="47.5"/>
<ellipse class="t" cx="-4" cy="2.5" rx="29" ry="40"/>
<ellipse class="t" cx="-6" cy="3.5" rx="25.5" ry="36"/>
<ellipse class="g" cx="-9" cy="4.5" rx="20" ry="27"/>
<ellipse class="g" cx="-13" cy="3" rx="12.5" ry="16"/>
<ellipse class="t" cx="-13" cy="3" rx="10" ry="13" stroke-width="1.4" stroke="#b8b8a0"/>
<ellipse class="m" cx="-13" cy="3" rx="6.5" ry="8.5" stroke-width="0.8" stroke="#888" />
<ellipse class="t" cx="-13" cy="3" rx="3.5" ry="4.5"/>
</g><g transform="translate(1120.7,183.9) rotate(-15)">
<ellipse class="m" rx="9.5" ry="12"/>
<path class="t" d="M0,-6 L1.5,-3 L5,-3 L3,0 L5,3 L1.5,3 L0,6 L-1.5,3 L-5,3 L-3,0 L-5,-3 L-1.5,-3Z"/>
</g><g transform="translate(564.7,503.8) rotate(-15)">
<ellipse class="m" rx="9.5" ry="12"/>
<path class="t" d="M0,-6 L1.5,-3 L5,-3 L3,0 L5,3 L1.5,3 L0,6 L-1.5,3 L-5,3 L-3,0 L-5,-3 L-1.5,-3Z"/>
</g>
</g>

</g>
</svg>
</body></html>
